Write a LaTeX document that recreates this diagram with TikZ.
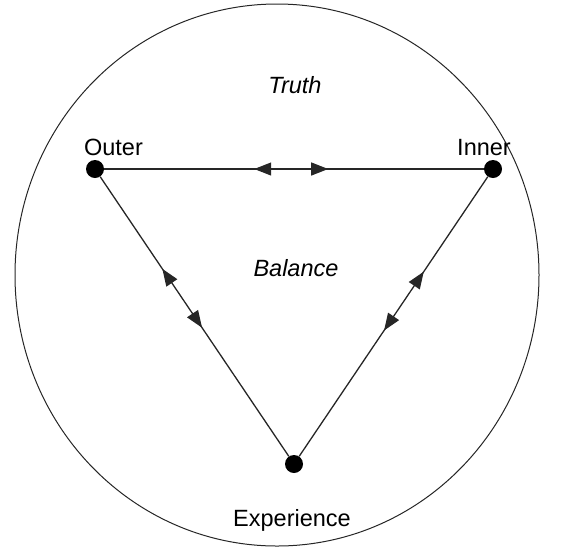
\documentclass[tikz,border=0pt]{standalone}
\usepackage{fontspec}
\setmainfont{Liberation Sans}
\usetikzlibrary{arrows.meta,positioning,decorations.markings}

\begin{document}
\begin{tikzpicture}[
            x=1pt, y=-1pt,
            dot/.style = {circle, fill=black, inner sep=0pt, minimum size=18pt},
            label/.style = {anchor=base, font=\fontsize{23.5}{28}\selectfont},
            word/.style = {anchor=base, font=\fontsize{23.5}{28}\selectfont\itshape},
            edge/.style = {line width=1.3pt, black!85},
            twoway/.style 2 args = {edge, postaction={decorate}, decoration={markings,
                mark=at position #1 with {\arrow{Triangle[reversed,length=17pt,width=13pt]}},
                mark=at position #2 with {\arrow{Triangle[length=17pt,width=13pt]}}}}
        ]
        \useasboundingbox (0,0) rectangle (562,550);

        % Circulo exterior
        \draw [line width=1pt, black!85] (277,275) ellipse [x radius=262, y radius=271];

        % Vertices del triangulo
        \node [dot] (outer) at (95,169) {};
        \node [dot] (inner) at (493,169) {};
        \node [dot] (experience) at (294,464) {};

        % Etiquetas
        \node [label] (outerlabel) at (113.5,155) {Outer};
        \node [label] (innerlabel) at (484,155) {Inner};
        \node [label] (explabel) at (292,526) {Experience};
        \node [word] (truth) at (295,93) {Truth};
        \node [word] (balance) at (296,276) {Balance};

        % Lados con flechas dobles
        \draw [twoway={0.44}{0.59}] (outer) -- (inner);
        \draw [twoway={0.38}{0.54}] (outer) -- (experience);
        \draw [twoway={0.39}{0.55}] (inner) -- (experience);

    \end{tikzpicture}
\end{document}
